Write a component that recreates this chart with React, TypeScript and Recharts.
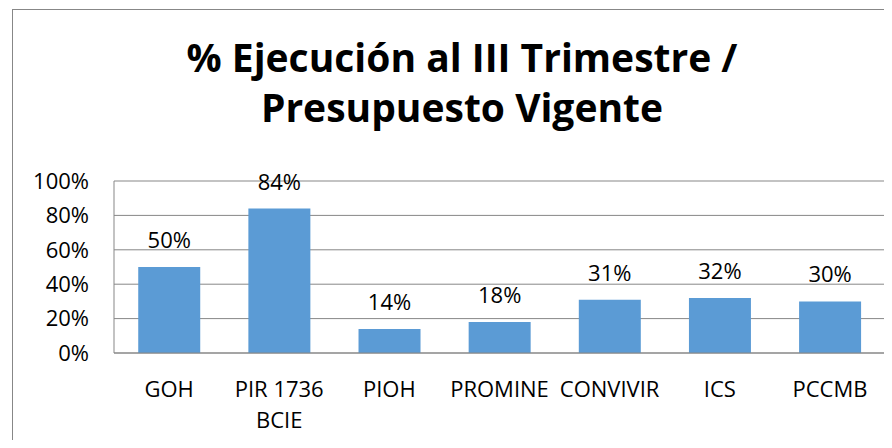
import React from "react";
import { BarChart, Bar, XAxis, YAxis, CartesianGrid, LabelList } from "recharts";

const categories = ["GOH", "PIR 1736\nBCIE", "PIOH", "PROMINE", "CONVIVIR", "ICS", "PCCMB"];
const values = [0.5, 0.84, 0.14, 0.18, 0.31, 0.32, 0.3];
const yTicks = [0, 0.2, 0.4, 0.6, 0.8, 1.0];
const titleLines = ["% Ejecución al III Trimestre /", "Presupuesto Vigente"];

const data = categories.map((c, i) => ({ name: c, value: values[i] }));

const FONT = "'Open Sans', Lato, sans-serif";
const FS = 22;

const pct = (v: number) => `${Math.round(v * 100)}%`;

const XTick = (props: any) => {
  const { x, y, payload } = props;
  const lines = String(payload.value).split("\n");
  return (
    <g>
      {lines.map((l: string, i: number) => (
        <text
          key={i}
          x={x}
          y={y + 36 + i * 31}
          textAnchor="middle"
          fill="#000"
          fontSize={FS}
          fontFamily={FONT}
        >
          {l}
        </text>
      ))}
    </g>
  );
};

export default function App() {
  return (
    <div style={{ position: "relative", width: 892, height: 448, margin: -8, background: "#fff", overflow: "hidden" }}>
      <div
        style={{
          position: "absolute",
          left: 12,
          top: 9,
          width: 880,
          height: 450,
          border: "1px solid #878787",
          boxSizing: "border-box",
        }}
      />
      <div style={{ position: "absolute", left: 0, top: 0 }}>
        <BarChart
          width={892}
          height={448}
          data={data}
          margin={{ top: 181, right: 7, bottom: 20, left: 14 }}
          barCategoryGap="22%"
        >
          <CartesianGrid vertical={false} stroke="#878787" strokeWidth={1} />
          <XAxis
            dataKey="name"
            tick={<XTick />}
            tickLine={false}
            axisLine={{ stroke: "#878787" }}
            height={75}
            interval={0}
          />
          <YAxis
            domain={[0, 1]}
            ticks={yTicks}
            tickFormatter={pct}
            tickLine={false}
            axisLine={{ stroke: "#878787" }}
            width={100}
            tickMargin={19}
            tick={{ fill: "#000", fontSize: FS, fontFamily: FONT }}
            interval={0}
          />
          <Bar dataKey="value" fill="#5B9BD5" isAnimationActive={false}>
            <LabelList
              dataKey="value"
              position="top"
              offset={19}
              formatter={(v: any) => pct(Number(v))}
              fill="#000"
              fontSize={FS}
              fontFamily={FONT}
            />
          </Bar>
        </BarChart>
      </div>
      <div
        style={{
          position: "absolute",
          left: 62,
          top: 32,
          width: 800,
          textAlign: "center",
          fontFamily: FONT,
          fontWeight: 700,
          fontSize: 39,
          lineHeight: "50px",
          color: "#000",
          whiteSpace: "nowrap",
        }}
      >
        {titleLines.map((t, i) => (
          <div key={i}>{t}</div>
        ))}
      </div>
    </div>
  );
}
